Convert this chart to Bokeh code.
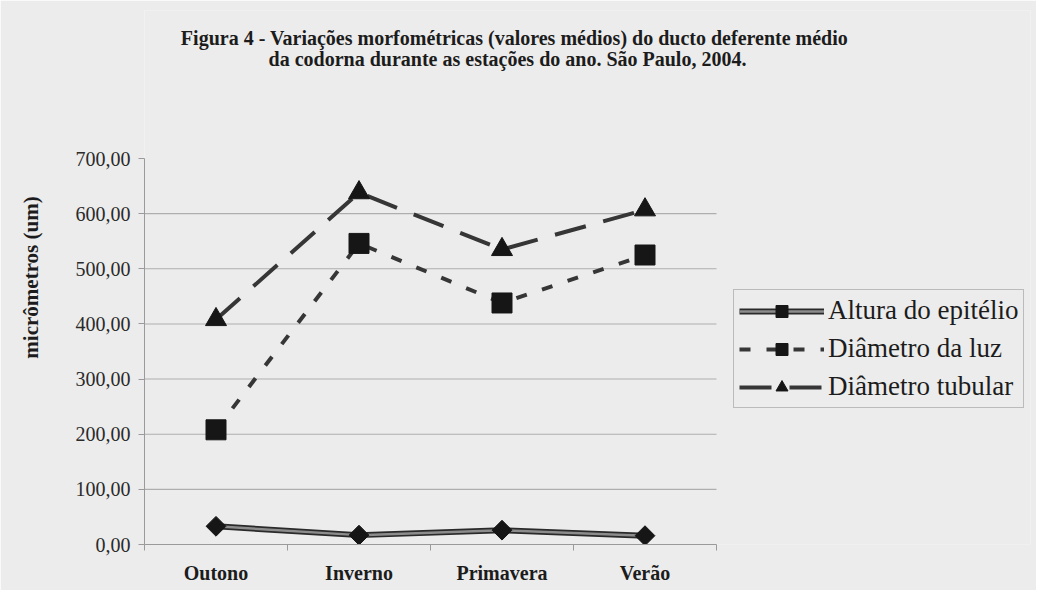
from bokeh.plotting import figure
from bokeh.models import FixedTicker, Label, Legend, LegendItem, Range1d
from bokeh.embed import file_html
from bokeh.resources import INLINE

# ---------------- data ----------------
categories = ["Outono", "Inverno", "Primavera", "Verão"]
altura_epitelio = [33, 17, 26, 16]
diametro_luz = [208, 546, 438, 525]
diametro_tubular = [408, 638, 535, 607]
series_names = ["Altura do epitélio", "Diâmetro da luz", "Diâmetro tubular"]
y_ticks = [0, 100, 200, 300, 400, 500, 600, 700]
y_tick_labels = ["0,00", "100,00", "200,00", "300,00", "400,00", "500,00", "600,00", "700,00"]
y_grid_values = [100, 200, 300, 400, 500, 600]
title_lines = [
    "Figura 4 - Variações morfométricas (valores médios) do ducto deferente médio",
    "da codorna durante as estações do ano. São Paulo, 2004.",
]
y_label = "micrômetros (um)"

# ---------------- layout / styling ----------------
BG = "#ececec"
SERIF = "Liberation Serif"
TXT = "#1c1c1c"
LINE = "#363636"
MARK = "#161616"

W, H = 1036, 590
LEFT, BOTTOM, TOP, RIGHT = 144, 46, 10, 6
PLOT_W, PLOT_H = 572, 386          # pixel size of the chart area proper
frame_w = W - LEFT - RIGHT
frame_h = H - TOP - BOTTOM
n = len(categories)
x_end = n * frame_w / PLOT_W
y_end = y_ticks[-1] * frame_h / PLOT_H

x = [i + 0.5 for i in range(n)]
bounds = list(range(n + 1))

p = figure(width=W, height=H, output_backend="svg", toolbar_location=None,
           x_range=Range1d(0, x_end), y_range=Range1d(y_ticks[0], y_end),
           min_border_left=LEFT, min_border_right=RIGHT, min_border_top=TOP,
           min_border_bottom=BOTTOM,
           background_fill_color=BG, border_fill_color=BG, outline_line_color=None)

# grid lines restricted to the chart area
p.xgrid.visible = False
p.ygrid.visible = False
p.segment(x0=[0] * len(y_grid_values), x1=[n] * len(y_grid_values),
          y0=y_grid_values, y1=y_grid_values, line_color="#aeaeae", line_width=1.1)

# y axis
ya = p.yaxis[0]
ya.bounds = (y_ticks[0], y_ticks[-1])
ya.ticker = FixedTicker(ticks=y_ticks)
ya.major_label_overrides = dict(zip(y_ticks, y_tick_labels))
ya.axis_line_color = "#9a9a9a"
ya.major_tick_line_color = "#9a9a9a"
ya.major_tick_out = 6
ya.major_tick_in = 0
ya.minor_tick_line_color = None
ya.major_label_standoff = 8
ya.major_label_text_font = SERIF
ya.major_label_text_font_size = "20px"
ya.major_label_text_color = "#2a2a2a"
ya.axis_label = y_label
ya.axis_label_text_font = SERIF
ya.axis_label_text_font_style = "bold"
ya.axis_label_text_font_size = "21px"
ya.axis_label_text_color = TXT
ya.axis_label_standoff = 30

# x axis
xa = p.xaxis[0]
xa.bounds = (0, n)
xa.ticker = FixedTicker(ticks=x, minor_ticks=bounds)
xa.major_label_overrides = dict(zip(x, categories))
xa.axis_line_color = "#9a9a9a"
xa.major_tick_line_color = None
xa.major_tick_out = 0
xa.major_tick_in = 0
xa.minor_tick_line_color = "#9a9a9a"
xa.minor_tick_out = 6
xa.minor_tick_in = 0
xa.major_label_standoff = 11
xa.major_label_text_font = SERIF
xa.major_label_text_font_style = "bold"
xa.major_label_text_font_size = "20px"
xa.major_label_text_color = TXT

# series
tub_l = p.line(x, diametro_tubular, line_color=LINE, line_width=4, line_dash="32 18")
tub_m = p.scatter(x, diametro_tubular, marker="triangle", size=21, color=MARK)

luz_l = p.line(x, diametro_luz, line_color=LINE, line_width=4, line_dash="11 16")
luz_m = p.scatter(x, diametro_luz, marker="square", size=20, color=MARK)

epi_l1 = p.line(x, altura_epitelio, line_color="#2a2a2a", line_width=6)
epi_l2 = p.line(x, altura_epitelio, line_color="#8c8c8c", line_width=2.5)
epi_m = p.scatter(x, altura_epitelio, marker="square", angle=0.785398, size=14, color=MARK)

legend = Legend(items=[
    LegendItem(label=series_names[0], renderers=[epi_l1, epi_l2, epi_m]),
    LegendItem(label=series_names[1], renderers=[luz_l, luz_m]),
    LegendItem(label=series_names[2], renderers=[tub_l, tub_m]),
], location=(589, 136), glyph_width=85, glyph_height=30, label_height=30,
    spacing=7, padding=5, margin=0, label_standoff=4,
    border_line_color="#8a8a8a", border_line_width=1,
    background_fill_color=BG, background_fill_alpha=1,
    label_text_font=SERIF, label_text_font_size="27px", label_text_color=TXT)
p.add_layout(legend)

# title: two centred lines (screen units measured from the frame's bottom-left)
title_pos = [(370, frame_h - (37 - TOP)), (363, frame_h - (58 - TOP))]
for line_text, (tx, ty) in zip(title_lines, title_pos):
    p.add_layout(Label(x=tx, y=ty, x_units="screen", y_units="screen", text=line_text,
                       text_align="center", text_baseline="middle",
                       text_font=SERIF, text_font_style="bold", text_font_size="20px",
                       text_color=TXT))

open("out.html", "w").write(file_html(p, INLINE))
